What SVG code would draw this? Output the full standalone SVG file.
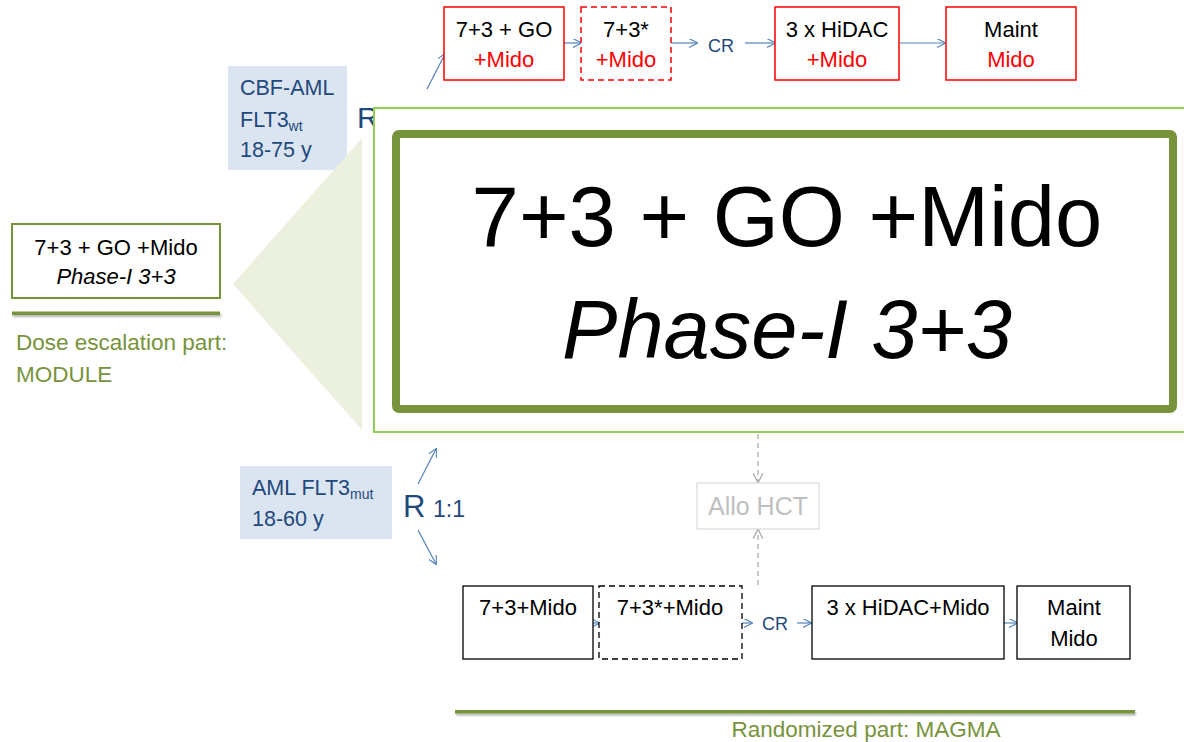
<svg xmlns="http://www.w3.org/2000/svg" width="1184" height="742" viewBox="0 0 1184 742">
<defs>
<marker id="arr" viewBox="0 0 10 10" refX="9" refY="5" markerWidth="9" markerHeight="9" markerUnits="userSpaceOnUse" orient="auto">
<path d="M0,0 L10,5 L0,10" fill="none" stroke="#4f81bd" stroke-width="1.2"/>
</marker>
<marker id="arrg" viewBox="0 0 10 10" refX="9" refY="5" markerWidth="10" markerHeight="10" markerUnits="userSpaceOnUse" orient="auto">
<path d="M0,0 L10,5 L0,10" fill="none" stroke="#a6a6a6" stroke-width="1.2"/>
</marker>
<filter id="sh" filterUnits="userSpaceOnUse" x="0" y="0" width="1184" height="742">
<feDropShadow dx="1" dy="2" stdDeviation="1.2" flood-color="#000" flood-opacity="0.3"/>
</filter>
</defs>
<style>
text{font-family:"Liberation Sans",Arial,sans-serif}
.t{font-size:22px;fill:#000}
.red{fill:#ff0000}
.blue{fill:#1f497d}
.grn{fill:#77933c;font-size:22.5px}
.rbox{fill:#fff;stroke:#ff0000;stroke-width:1.5}
.bbox{fill:#fff;stroke:#000;stroke-width:1.3}
.con{stroke:#4f81bd;stroke-width:1.2;fill:none;marker-end:url(#arr)}
.gcon{stroke:#a6a6a6;stroke-width:1.2;fill:none;stroke-dasharray:5 4;marker-end:url(#arrg)}
.lbl{fill:#dbe5f1}
</style>

<!-- connectors -->
<g id="connectors">
<line class="con" x1="564" y1="43" x2="581" y2="43"/>
<line class="con" x1="671" y1="43" x2="697" y2="43"/>
<line class="con" x1="745" y1="43" x2="775" y2="43"/>
<line class="con" x1="899" y1="43" x2="945" y2="43"/>
<line class="con" x1="427" y1="89" x2="445" y2="54"/>
<line class="con" x1="418" y1="484" x2="436" y2="449"/>
<line class="con" x1="418" y1="530" x2="436" y2="564"/>
<line class="con" x1="593" y1="623" x2="599" y2="623"/>
<line class="con" x1="742" y1="623" x2="752" y2="623"/>
<line class="con" x1="797" y1="623" x2="811" y2="623"/>
<line class="con" x1="1004" y1="623" x2="1017" y2="623"/>
<line class="gcon" x1="758" y1="434" x2="758" y2="482"/>
<line class="gcon" x1="758" y1="585" x2="758" y2="530"/>
</g>

<!-- top row -->
<g id="top1"><rect class="rbox" x="444" y="7" width="120" height="73"/>
<text class="t" x="504" y="37" text-anchor="middle">7+3 + GO</text>
<text class="t red" x="504" y="67" text-anchor="middle">+Mido</text></g>
<g id="top2"><rect class="rbox" x="581" y="7" width="90" height="73" stroke-dasharray="6 4"/>
<text class="t" x="626" y="37" text-anchor="middle">7+3*</text>
<text class="t red" x="626" y="67" text-anchor="middle">+Mido</text></g>
<g id="topcr"><text class="blue" x="708" y="52" font-size="18">CR</text></g>
<g id="top3"><rect class="rbox" x="775" y="7" width="124" height="73"/>
<text class="t" x="837" y="37" text-anchor="middle">3 x HiDAC</text>
<text class="t red" x="837" y="67" text-anchor="middle">+Mido</text></g>
<g id="top4"><rect class="rbox" x="946" y="7" width="130" height="73"/>
<text class="t" x="1011" y="37" text-anchor="middle">Maint</text>
<text class="t red" x="1011" y="67" text-anchor="middle">Mido</text></g>

<!-- CBF label -->
<g id="cbf"><rect class="lbl" x="228" y="66" width="119" height="104"/>
<text class="blue" x="240" y="95" font-size="21.5">CBF-AML</text>
<text class="blue" x="240" y="127" font-size="21.5">FLT3<tspan font-size="14" dy="4">wt</tspan></text>
<text class="blue" x="240" y="157" font-size="21.5">18-75 y</text></g>
<g id="rtop"><text class="blue" x="357" y="128" font-size="30">R</text></g>

<!-- left node -->
<g id="module"><rect x="12" y="224" width="208" height="74" fill="#fff" stroke="#77933c" stroke-width="2"/>
<text class="t" x="116" y="255" text-anchor="middle" font-size="22.5">7+3 + GO +Mido</text>
<text class="t" x="116" y="284" text-anchor="middle" font-size="22.5" font-style="italic">Phase-I 3+3</text>
<rect x="12" y="311.5" width="208" height="3.5" fill="#77933c" filter="url(#sh)"/>
<text class="grn" x="16" y="350">Dose escalation part:</text>
<text class="grn" x="16" y="382">MODULE</text></g>

<!-- callout -->
<g id="callout">
<polygon points="233,284 362,138 362,430" fill="#ebf1de"/>
<rect x="374" y="108" width="820" height="324" fill="#fff" stroke="#92d050" stroke-width="2"/>
<rect x="396" y="134" width="777" height="275" rx="3" fill="#fff" stroke="#77933c" stroke-width="8"/>
<text x="787" y="246" font-size="85" text-anchor="middle" fill="#000">7+3 + GO +Mido</text>
<text x="787" y="358" font-size="83" text-anchor="middle" font-style="italic" fill="#000">Phase-I 3+3</text>
</g>

<!-- bottom label -->
<g id="flt3mut"><rect class="lbl" x="240" y="466" width="152" height="73"/>
<text class="blue" x="252" y="495" font-size="21.5">AML FLT3<tspan font-size="14" dy="4">mut</tspan></text>
<text class="blue" x="252" y="526" font-size="21.5">18-60 y</text></g>
<g id="rbot"><text class="blue" x="403" y="517" font-size="31">R</text>
<text class="blue" x="433" y="517" font-size="23">1:1</text></g>

<!-- allo -->
<g id="allo"><rect x="697" y="483" width="122" height="46" fill="#fff" stroke="#d9d9d9" stroke-width="1.2"/>
<text x="758" y="515" font-size="25" text-anchor="middle" fill="#bfbfbf">Allo HCT</text></g>

<!-- bottom row -->
<g id="b1"><rect class="bbox" x="463" y="586" width="130" height="73"/>
<text class="t" x="528" y="615" text-anchor="middle" font-size="23">7+3+Mido</text></g>
<g id="b2"><rect class="bbox" x="599" y="586" width="143" height="73" stroke-dasharray="6 4"/>
<text class="t" x="670" y="615" text-anchor="middle" font-size="23">7+3*+Mido</text></g>
<g id="bcr"><text class="blue" x="762" y="630" font-size="18">CR</text></g>
<g id="b3"><rect class="bbox" x="812" y="586" width="192" height="73"/>
<text class="t" x="908" y="615" text-anchor="middle" font-size="22.5">3 x HiDAC+Mido</text></g>
<g id="b4"><rect class="bbox" x="1017" y="586" width="113" height="73"/>
<text class="t" x="1074" y="615" text-anchor="middle" font-size="22.5">Maint</text>
<text class="t" x="1074" y="646" text-anchor="middle" font-size="22.5">Mido</text></g>

<g id="magma">
<rect x="455" y="710" width="680" height="3.5" fill="#77933c" filter="url(#sh)"/>
<text class="grn" x="866" y="737" text-anchor="middle" font-size="23.5">Randomized part: MAGMA</text>
</g>
</svg>
